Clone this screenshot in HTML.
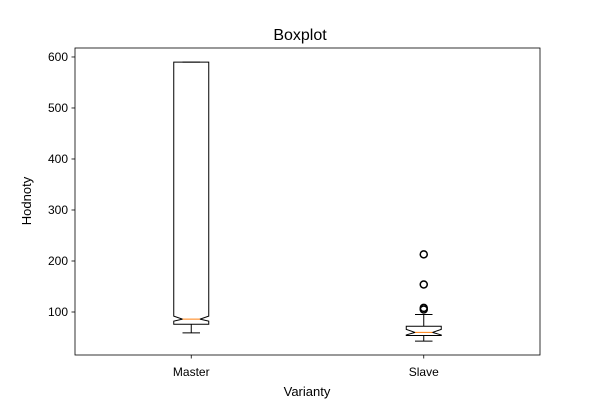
<!DOCTYPE html>
<html><head><meta charset="utf-8"><style>
body{margin:0;background:#fff;font-family:"Liberation Sans","DejaVu Sans",sans-serif}
</style></head><body>
<svg id="c" width="600" height="400" xmlns="http://www.w3.org/2000/svg"></svg>
<script>
const categories=["Master","Slave"];
const q1=[76,54];
const q3=[590,72];
const medians=[86,60];
const notchLo=[82,55];
const notchHi=[92,66];
const whiskLo=[59,43];
const whiskHi=[590,95];
const outliers=[[],[105,108,154,213]];
const yTicks=[100,200,300,400,500,600];

const L=75,R=540,T=48,B=355,ymin=15.7,ymax=617.6;
const y=v=>B-(v-ymin)/(ymax-ymin)*(B-T);
const x=i=>L+(R-L)*((i+1)-0.5)/2;
const svg=document.getElementById('c');
const NS='http://www.w3.org/2000/svg';
function el(t,a,p){const e=document.createElementNS(NS,t);for(const k in a)e.setAttribute(k,a[k]);(p||svg).appendChild(e);return e;}
let t=el('text',{x:300,y:40,'text-anchor':'middle','font-size':16});t.textContent='Boxplot';


yTicks.forEach(v=>{
 const g=el('g',{});
 
 
 el('line',{x1:L-3.5,x2:L,y1:y(v),y2:y(v),stroke:'#000','stroke-width':0.8},g);
 const tx=el('text',{x:L-7,y:y(v)+4,'text-anchor':'end','font-size':12},g);tx.textContent=v;
});
categories.forEach((c,i)=>{
 const cx=x(i),hw=17.5,nw=8.75;
 const g=el('g',{});
 
 
 el('line',{x1:cx,x2:cx,y1:y(q3[i]),y2:y(whiskHi[i]),stroke:'#000'},g);
 el('line',{x1:cx,x2:cx,y1:y(q1[i]),y2:y(whiskLo[i]),stroke:'#000'},g);
 el('line',{x1:cx-nw,x2:cx+nw,y1:y(whiskHi[i]),y2:y(whiskHi[i]),stroke:'#000'},g);
 el('line',{x1:cx-nw,x2:cx+nw,y1:y(whiskLo[i]),y2:y(whiskLo[i]),stroke:'#000'},g);
 const pts=[[cx-hw,y(q1[i])],[cx+hw,y(q1[i])],[cx+hw,y(notchLo[i])],[cx+nw,y(medians[i])],[cx+hw,y(notchHi[i])],[cx+hw,y(q3[i])],[cx-hw,y(q3[i])],[cx-hw,y(notchHi[i])],[cx-nw,y(medians[i])],[cx-hw,y(notchLo[i])]];
 el('polygon',{points:pts.map(p=>p.join(',')).join(' '),fill:'none',stroke:'#000'},g);
 el('line',{x1:cx-nw,x2:cx+nw,y1:y(medians[i]),y2:y(medians[i]),stroke:'#ff7f0e'},g);
 outliers[i].forEach(v=>{
  const o=el('circle',{cx:cx,cy:y(v),r:3.5,fill:'none',stroke:'#000','stroke-width':1.5},g);
  
  
 });
 el('line',{x1:cx,x2:cx,y1:B,y2:B+3.5,stroke:'#000','stroke-width':0.8});
 const tx=el('text',{x:cx,y:B+21,'text-anchor':'middle','font-size':12});tx.textContent=c;
 
 
});
const fr=el('rect',{x:L,y:T,width:R-L,height:B-T,fill:'none',stroke:'#000','stroke-width':0.8});


t=el('text',{x:307,y:396,'text-anchor':'middle','font-size':13});t.textContent='Varianty';


t=el('text',{x:31,y:201,'text-anchor':'middle','font-size':13,transform:'rotate(-90 31 201)'});t.textContent='Hodnoty';


</script>
</body></html>
